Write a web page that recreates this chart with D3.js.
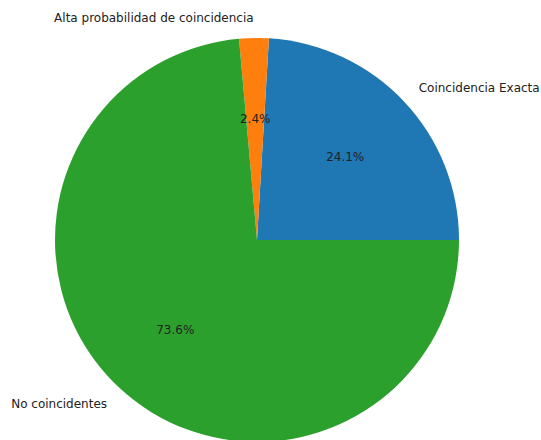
<!DOCTYPE html>
<html><head><meta charset="utf-8">
<script src="https://cdn.jsdelivr.net/npm/d3@7"></script>
<style>body{margin:0;background:#fff;}svg{display:block;}</style>
</head><body>
<script>
const categories = ["Coincidencia Exacta", "Alta probabilidad de coincidencia", "No coincidentes"];
const values = [24.06, 2.36, 73.58];
const colors = ["#1f77b4", "#ff7f0e", "#2ca02c"];

const W = 541, H = 440, cx = 257, cy = 240, R = 202;
const svg = d3.select("body").append("svg").attr("width", W).attr("height", H);
const g = svg.append("g").attr("transform", `translate(${cx},${cy})`);

// matplotlib: start at east, counterclockwise. d3 angles: 0 = north, clockwise.
const pie = d3.pie().sort(null).value(d => d)
  .startAngle(Math.PI / 2).endAngle(Math.PI / 2 - 2 * Math.PI);
const arcs = pie(values);
const arc = d3.arc().innerRadius(0).outerRadius(R);
const total = d3.sum(values);

g.selectAll("path").data(arcs).enter().append("path")
  .attr("d", arc).attr("fill", (d, i) => colors[i]);

arcs.forEach((d, i) => {
  const mid = (d.startAngle + d.endAngle) / 2;
  const sx = Math.sin(mid), sy = -Math.cos(mid);
  g.append("text")
    .attr("x", 1.1 * R * sx).attr("y", 1.1 * R * sy)
    .attr("dy", "0.35em")
    .attr("text-anchor", sx >= 0 ? "start" : "end")
    .attr("font-family", "DejaVu Sans").attr("font-size", 12).attr("fill", "#222")
    .text(categories[i]);
  g.append("text")
    .attr("x", 0.6 * R * sx).attr("y", 0.6 * R * sy)
    .attr("dy", "0.35em")
    .attr("text-anchor", "middle")
    .attr("font-family", "DejaVu Sans").attr("font-size", 12).attr("fill", "#222")
    .text((d.value / total * 100).toFixed(1) + "%");
});
</script>
</body></html>
